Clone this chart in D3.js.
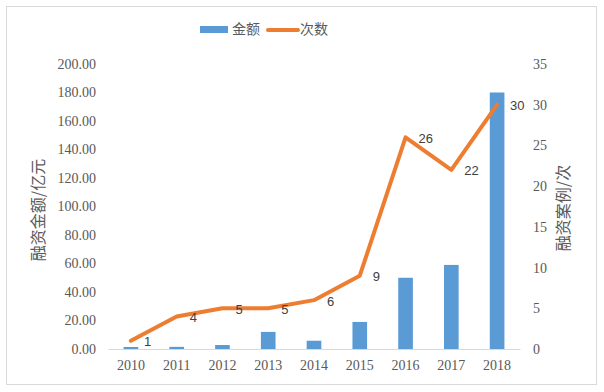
<!DOCTYPE html>
<html><head><meta charset="utf-8">
<script src="https://cdn.jsdelivr.net/npm/d3@7"></script>
<style>body{margin:0;background:#fff}svg{display:block}</style>
</head><body>
<script>
const years = ["2010","2011","2012","2013","2014","2015","2016","2017","2018"];
const amounts = [1.4, 1.5, 2.8, 12, 5.8, 19, 50, 59, 180];
const counts = [1, 4, 5, 5, 6, 9, 26, 22, 30];
const leftTicks = [0,20,40,60,80,100,120,140,160,180,200];
const rightTicks = [0,5,10,15,20,25,30,35];

const W = 604, H = 392;
const svg = d3.select("body").append("svg").attr("width", W).attr("height", H);
svg.append("rect").attr("x",6.5).attr("y",6.5).attr("width",590).attr("height",378)
  .attr("fill","#fff").attr("stroke","#d9d9d9");

const x = d3.scaleBand().domain(years).range([108, 520]).paddingInner(0.68).paddingOuter(0.34);
const yL = d3.scaleLinear().domain([0,200]).range([349, 64]);
const yR = d3.scaleLinear().domain([0,35]).range([349, 64]);
const serif = "'Liberation Serif','Times New Roman',serif";
const cjk = "'Noto Sans CJK SC',sans-serif";
const gray = "#595959";

// left axis
const gL = svg.append("g").attr("transform","translate(108,0)")
  .call(d3.axisLeft(yL).tickValues(leftTicks).tickFormat(d3.format(".2f")).tickSize(0).tickPadding(12));
gL.select(".domain").remove();
gL.selectAll("text").attr("font-family",serif).attr("font-size",14).attr("fill",gray);

// right axis
const gR = svg.append("g").attr("transform","translate(520,0)")
  .call(d3.axisRight(yR).tickValues(rightTicks).tickSize(0).tickPadding(13));
gR.select(".domain").remove();
gR.selectAll("text").attr("font-family",serif).attr("font-size",14).attr("fill",gray);

// bars
svg.append("g").selectAll("rect").data(years).join("rect")
  .attr("x", d => x(d)).attr("width", x.bandwidth())
  .attr("y", (d,i) => yL(amounts[i])).attr("height", (d,i) => yL(0) - yL(amounts[i]))
  .attr("fill","#5b9bd5");

// x axis
const gX = svg.append("g").attr("transform","translate(0,349)")
  .call(d3.axisBottom(x).tickSize(0).tickPadding(11));
gX.select(".domain").attr("stroke","#d9d9d9");
gX.selectAll("text").attr("font-family",serif).attr("font-size",14).attr("fill",gray);

// line
const cx = d => x(d) + x.bandwidth()/2;
svg.append("path").datum(years)
  .attr("d", d3.line().x(cx).y((d,i) => yR(counts[i])))
  .attr("fill","none").attr("stroke","#ed7d31").attr("stroke-width",4)
  .attr("stroke-linejoin","round").attr("stroke-linecap","round");

svg.append("g").selectAll("text").data(years).join("text")
  .attr("x", d => cx(d) + 13).attr("y", (d,i) => yR(counts[i]) + 2)
  .attr("dominant-baseline","middle")
  .attr("font-family","'Liberation Sans',Arial,sans-serif").attr("font-size",13).attr("fill","#404040")
  .text((d,i) => counts[i]);

// axis titles
svg.append("text").attr("transform","translate(40,210) rotate(-90)")
  .attr("text-anchor","middle").attr("dominant-baseline","middle")
  .attr("font-family",cjk).attr("font-size",16).attr("fill",gray).text("融资金额/亿元");
svg.append("text").attr("transform","translate(565,208) rotate(-90)")
  .attr("text-anchor","middle").attr("dominant-baseline","middle")
  .attr("font-family",cjk).attr("font-size",16).attr("fill",gray).text("融资案例/次");

// legend
const lg = svg.append("g");
lg.append("rect").attr("x",200).attr("y",26).attr("width",28).attr("height",7).attr("fill","#5b9bd5");
lg.append("text").attr("x",232).attr("y",30).attr("dominant-baseline","middle")
  .attr("font-family",cjk).attr("font-size",14).attr("fill",gray).text("金额");
lg.append("line").attr("x1",268).attr("x2",298).attr("y1",30).attr("y2",30)
  .attr("stroke","#ed7d31").attr("stroke-width",4).attr("stroke-linecap","round");
lg.append("text").attr("x",300).attr("y",30).attr("dominant-baseline","middle")
  .attr("font-family",cjk).attr("font-size",14).attr("fill",gray).text("次数");
</script>
</body></html>
